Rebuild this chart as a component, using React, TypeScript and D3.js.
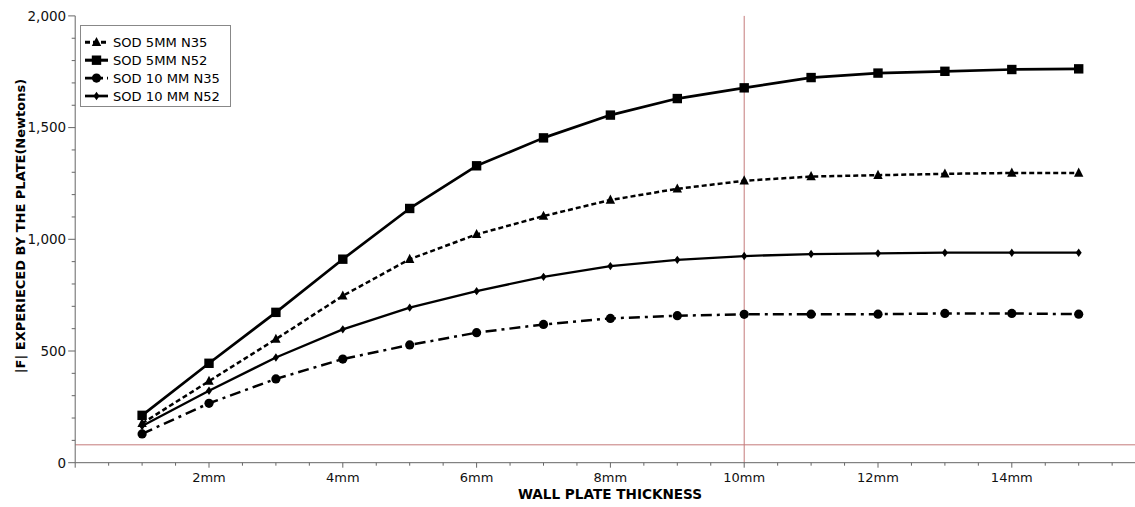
import React from "react";
import * as d3 from "d3";

const thickness = [1, 2, 3, 4, 5, 6, 7, 8, 9, 10, 11, 12, 13, 14, 15];
const sod5N35 = [176, 365, 553, 747, 911, 1022, 1104, 1176, 1226, 1262, 1281, 1287, 1293, 1297, 1297];
const sod5N52 = [212, 445, 673, 911, 1138, 1329, 1454, 1556, 1630, 1678, 1724, 1744, 1752, 1760, 1763];
const sod10N35 = [129, 266, 375, 464, 527, 582, 619, 646, 658, 664, 665, 665, 668, 668, 665];
const sod10N52 = [164, 322, 471, 597, 694, 768, 832, 880, 908, 925, 934, 937, 940, 940, 940];
const seriesNames = ["SOD 5MM N35", "SOD 5MM N52", "SOD 10 MM N35", "SOD 10 MM N52"];
const xTickValues = [2, 4, 6, 8, 10, 12, 14];
const yTickValues = [0, 500, 1000, 1500, 2000];
const refX = 10;
const refY = 80;

const W = 1135;
const H = 507;
const left = 75.2;
const right = 1135;
const top = 15.9;
const bottom = 462.7;
const FONT = "'DejaVu Sans', Verdana, sans-serif";

type Style = { dash: string; width: number; marker: string };
const styles: Style[] = [
  { dash: "5,3", width: 2.5, marker: "triangle" },
  { dash: "", width: 2.7, marker: "square" },
  { dash: "11,5,3,5", width: 2.5, marker: "circle" },
  { dash: "", width: 2.3, marker: "diamond" },
];
const seriesData = [sod5N35, sod5N52, sod10N35, sod10N52];

function Marker({ kind, x, y }: { kind: string; x: number; y: number }) {
  if (kind === "square") return <rect x={x - 4.7} y={y - 4.7} width={9.4} height={9.4} fill="#000" />;
  if (kind === "circle") return <circle cx={x} cy={y} r={4.6} fill="#000" />;
  if (kind === "triangle")
    return <path d={`M${x},${y - 5.4}L${x + 4.7},${y + 3.7}L${x - 4.7},${y + 3.7}Z`} fill="#000" />;
  return <path d={`M${x},${y - 4.2}L${x + 3},${y}L${x},${y + 4.2}L${x - 3},${y}Z`} fill="#000" />;
}

export default function App() {
  const x = d3.scaleLinear().domain([0, (right - left) / 66.9]).range([left, right]);
  const y = d3.scaleLinear().domain([0, 2000]).range([bottom, top]);
  const line = d3
    .line<number>()
    .x((_, i) => x(thickness[i]))
    .y((d) => y(d));
  const yMinor = d3.range(0, 2001, 100);
  const xMinor = d3.range(0, 15.85, 0.5);

  return (
    <svg width={W} height={H} style={{ position: "absolute", left: 0, top: 0, background: "#fff" }}>
      <rect width={W} height={H} fill="#fff" />
      {/* reference lines */}
      <line x1={left} x2={right} y1={y(refY)} y2={y(refY)} stroke="#c47a7a" strokeWidth={1} />
      <line x1={x(refX)} x2={x(refX)} y1={top} y2={bottom} stroke="#c47a7a" strokeWidth={1} />
      {/* axes */}
      <line x1={left} x2={left} y1={top} y2={bottom} stroke="#666" strokeWidth={1} />
      <line x1={left} x2={right} y1={bottom} y2={bottom} stroke="#666" strokeWidth={1} />
      {yMinor.map((v) => (
        <line key={"ym" + v} x1={left - (v % 500 === 0 ? 7 : 3.5)} x2={left} y1={y(v)} y2={y(v)} stroke="#666" />
      ))}
      {yTickValues.map((v) => (
        <text key={"yt" + v} x={left - 9} y={y(v) + 4.8} textAnchor="end" fontFamily={FONT} fontSize={13.5} fill="#111">
          {d3.format(",")(v)}
        </text>
      ))}
      {xMinor.map((v) => (
        <line key={"xm" + v} x1={x(v)} x2={x(v)} y1={bottom} y2={bottom + (v % 2 === 0 ? 5 : 3)} stroke="#666" />
      ))}
      {xTickValues.map((v) => (
        <text key={"xt" + v} x={x(v)} y={482} textAnchor="middle" fontFamily={FONT} fontSize={13} fill="#111">
          {v + "mm"}
        </text>
      ))}
      <text x={610} y={499} textAnchor="middle" fontFamily={FONT} fontSize={13.6} fontWeight="bold" fill="#000">
        WALL PLATE THICKNESS
      </text>
      <text
        transform={`translate(24.5,226) rotate(-90)`}
        textAnchor="middle"
        fontFamily={FONT}
        fontSize={13}
        fontWeight="bold"
        fill="#000"
      >
        |F| EXPERIECED BY THE PLATE(Newtons)
      </text>
      {/* series */}
      {seriesData.map((vals, si) => (
        <g key={"s" + si}>
          <path
            d={line(vals) || ""}
            fill="none"
            stroke="#000"
            strokeWidth={styles[si].width}
            strokeDasharray={styles[si].dash || undefined}
            strokeLinejoin="round"
          />
          {vals.map((v, i) => (
            <Marker key={i} kind={styles[si].marker} x={x(thickness[i])} y={y(v)} />
          ))}
        </g>
      ))}
      {/* legend */}
      <rect x={80.5} y={25.5} width={150} height={81} fill="#fff" stroke="#888" strokeWidth={1} />
      {seriesNames.map((name, i) => {
        const ly = 42.3 + i * 17.9;
        return (
          <g key={"lg" + i}>
            <line
              x1={85}
              x2={108}
              y1={ly}
              y2={ly}
              stroke="#000"
              strokeWidth={styles[i].width + 0.4}
              strokeDasharray={i === 0 ? "5,3" : i === 2 ? "11,4,3,4" : undefined}
            />
            <Marker kind={styles[i].marker} x={96.5} y={ly} />
            <text x={113} y={ly + 4.6} fontFamily={FONT} fontSize={13.1} fill="#000">
              {name}
            </text>
          </g>
        );
      })}
    </svg>
  );
}
